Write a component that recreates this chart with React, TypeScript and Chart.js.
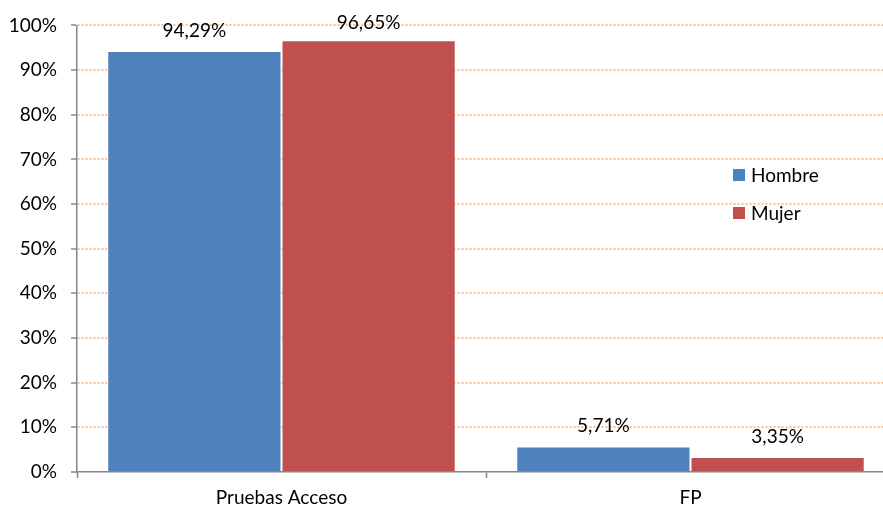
import React, { useEffect, useRef } from "react";
import { Chart, registerables } from "chart.js";

Chart.register(...registerables);

const categories = ["Pruebas Acceso", "FP"];
const hombre = [94.29, 5.71];
const mujer = [96.65, 3.35];
const seriesNames = ["Hombre", "Mujer"];
const yMin = 0;
const yMax = 100;
const yStep = 10;

const FONT = "Lato, 'Open Sans', sans-serif";
const FONT_SIZE = 19;
const BLUE = "#4F81BD";
const RED = "#C0504D";
const GRID = "#F9C090";
const AXIS = "#868686";

const fmt = (v: number) => v.toFixed(2).replace(".", ",") + "%";

const dataLabelPlugin = {
  id: "barValueLabels",
  afterDatasetsDraw(chart: any) {
    const ctx = chart.ctx;
    ctx.save();
    ctx.font = `${FONT_SIZE}px ${FONT}`;
    ctx.fillStyle = "#000";
    ctx.textAlign = "center";
    ctx.textBaseline = "alphabetic";
    chart.data.datasets.forEach((ds: any, di: number) => {
      const meta = chart.getDatasetMeta(di);
      meta.data.forEach((el: any, i: number) => {
        let y = el.y - 14;
        if (y < 29) y = 29;
        ctx.fillText(fmt(ds.data[i]), el.x, y);
      });
    });
    ctx.restore();
  },
};

const insideLegendPlugin = {
  id: "insideLegend",
  afterDraw(chart: any) {
    const ctx = chart.ctx;
    ctx.save();
    ctx.font = `${FONT_SIZE}px ${FONT}`;
    ctx.textBaseline = "middle";
    ctx.textAlign = "left";
    const x = 733;
    const y0 = 175;
    const gap = 38;
    chart.data.datasets.forEach((ds: any, i: number) => {
      const y = y0 + i * gap;
      ctx.fillStyle = ds.backgroundColor;
      ctx.fillRect(x, y - 6, 12, 12);
      ctx.fillStyle = "#000";
      ctx.fillText(ds.label, x + 18, y + 1);
    });
    ctx.restore();
  },
};

export default function App() {
  const ref = useRef<HTMLCanvasElement | null>(null);

  useEffect(() => {
    if (!ref.current) return;
    const chart = new Chart(ref.current, {
      type: "bar",
      data: {
        labels: categories,
        datasets: [
          {
            label: seriesNames[0],
            data: hombre,
            backgroundColor: BLUE,
            borderColor: "rgba(255,255,255,0.55)",
            borderWidth: { top: 1, left: 1, right: 1, bottom: 0 },
            categoryPercentage: 0.852,
            barPercentage: 1,
          },
          {
            label: seriesNames[1],
            data: mujer,
            backgroundColor: RED,
            borderColor: "rgba(255,255,255,0.55)",
            borderWidth: { top: 1, left: 1, right: 1, bottom: 0 },
            categoryPercentage: 0.852,
            barPercentage: 1,
          },
        ],
      },
      options: {
        responsive: false,
        animation: false,
        layout: { padding: { left: 0, top: 23, right: 5, bottom: 0 } },
        plugins: {
          legend: { display: false },
          tooltip: { enabled: false },
          title: { display: false },
        },
        scales: {
          x: {
            type: "category",
            offset: true,
            afterFit: (s: any) => {
              s.height = 34;
            },
            grid: {
              offset: true,
              drawOnChartArea: false,
              drawTicks: true,
              tickLength: 6,
              tickColor: AXIS,
              tickWidth: 1.5,
            },
            border: { display: true, color: AXIS, width: 1.5 },
            ticks: {
              color: "#000",
              padding: 8,
              font: { family: FONT, size: FONT_SIZE },
              maxRotation: 0,
            },
          },
          y: {
            min: yMin,
            max: yMax,
            afterFit: (s: any) => {
              s.width = 77;
            },
            grid: {
              color: (c: any) => (c.tick && c.tick.value === 0 ? "rgba(0,0,0,0)" : GRID),
              lineWidth: 2,
              drawTicks: true,
              tickLength: 6,
              tickColor: AXIS,
              tickWidth: 1.5,
              tickBorderDash: [],
            },
            border: { display: true, color: AXIS, width: 1.5, dash: [2, 2] },
            ticks: {
              stepSize: yStep,
              color: "#000",
              padding: 14,
              font: { family: FONT, size: FONT_SIZE },
              callback: (v: any) => v + "%",
            },
          },
        },
      },
      plugins: [dataLabelPlugin, insideLegendPlugin],
    });
    return () => chart.destroy();
  }, []);

  return (
    <div
      style={{
        position: "absolute",
        left: 0,
        top: 0,
        width: 883,
        height: 506,
        overflow: "hidden",
        background: "#fff",
      }}
    >
      <canvas ref={ref} width={900} height={506} style={{ display: "block" }} />
    </div>
  );
}
